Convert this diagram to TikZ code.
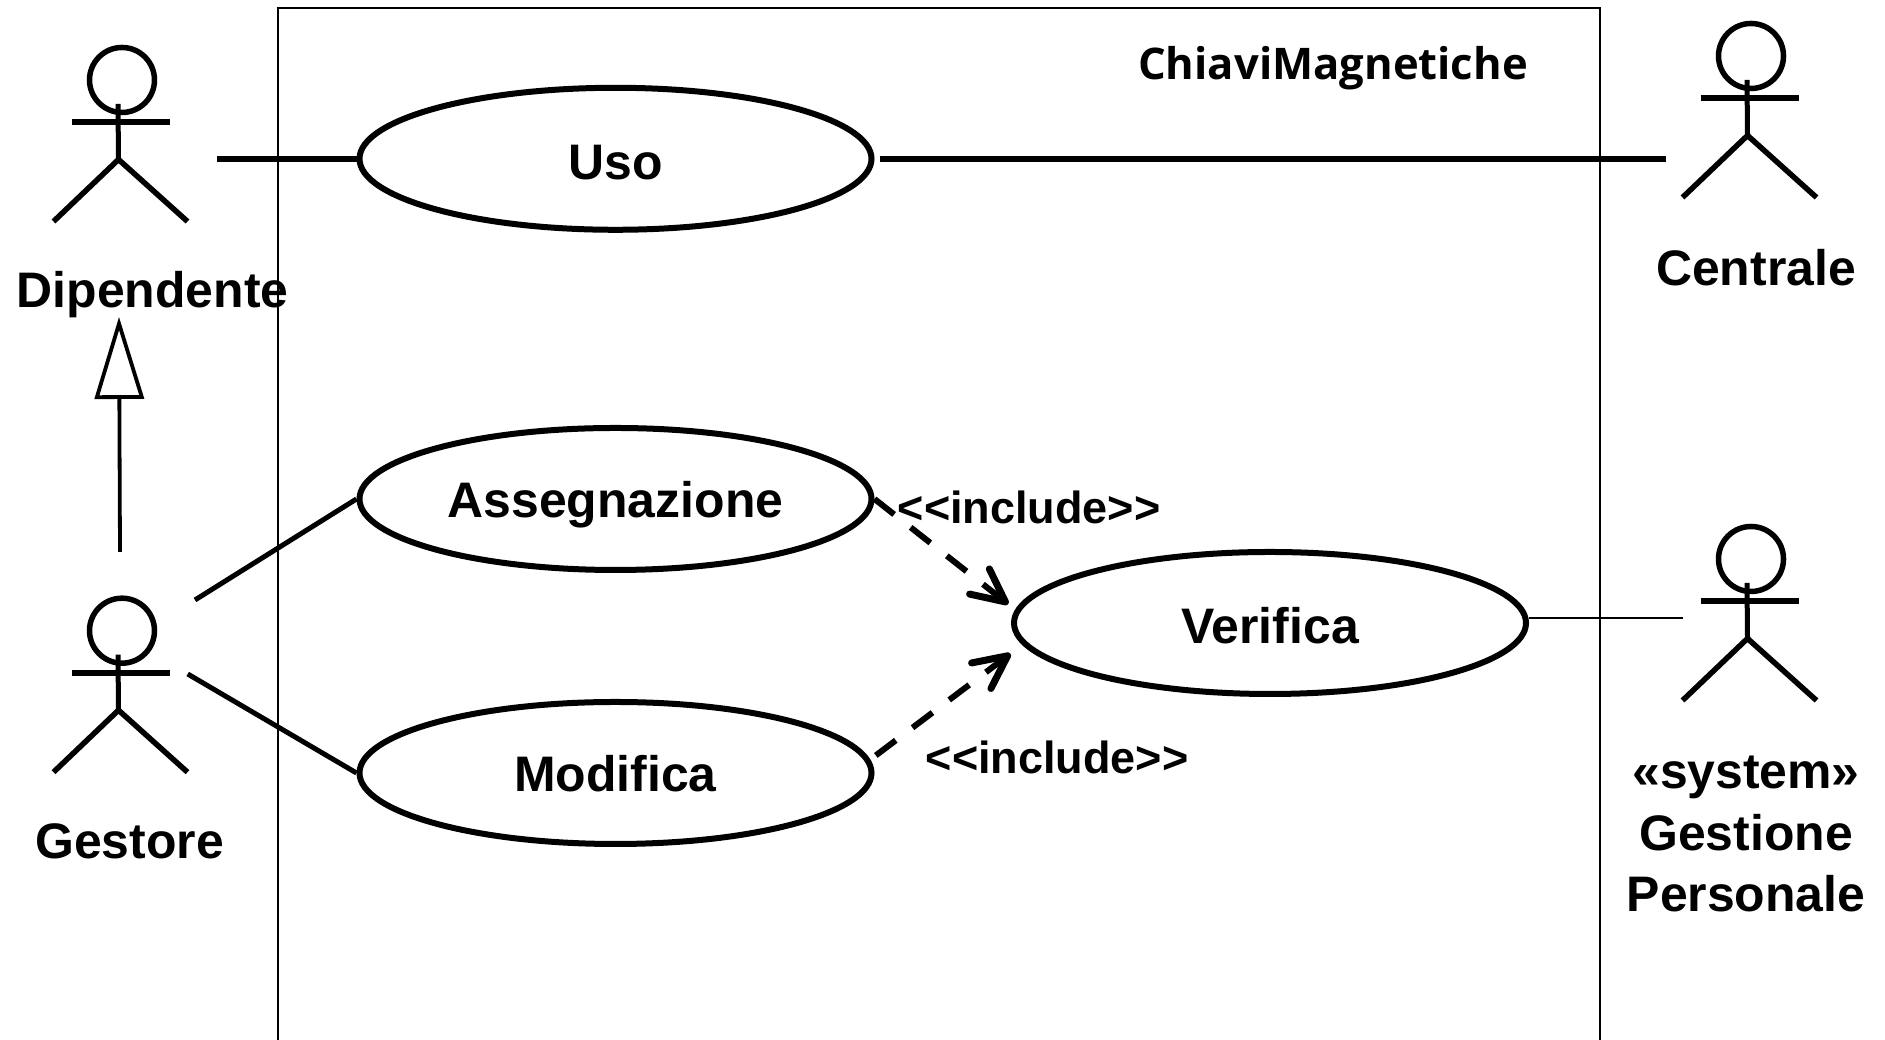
\documentclass[tikz,border=0pt]{standalone}
\usepackage{fontspec}
\setmainfont{Liberation Sans}
\newfontfamily\framefont{Open Sans}
\usetikzlibrary{arrows.meta}
\usetikzlibrary{shapes.geometric}
\tikzset{
    usecase/.style={draw, ellipse, line width=0.6mm, inner sep=0pt, minimum width=5.12cm, minimum height=1.42cm, text height=3.7mm, text depth=0pt, font=\fontsize{14.2}{17}\selectfont\bfseries},
    actorname/.style={anchor=base, font=\fontsize{14.2}{17}\selectfont\bfseries},
    stereotype/.style={anchor=base, font=\fontsize{12.8}{15}\selectfont\bfseries},
    assoc/.style={line width=0.6mm},
    includes/.style={line width=0.6mm, dash pattern=on 2.5mm off 2.1mm, -{Straight Barb[length=3.3mm, width=3.2mm, round, line width=0.7mm]}},
    actor/.pic={
        \draw[line width=0.55mm] (0,0) circle (0.325);
        \draw[line width=0.5mm] (-0.04,-0.24) -- (-0.035,-0.795);
        \draw[line width=0.6mm] (-0.505,-0.42) -- (0.475,-0.42);
        \draw[line width=0.55mm] (-0.685,-1.415) -- (-0.035,-0.795) -- (0.655,-1.415);
    }
}
\begin{document}
\begin{tikzpicture}
        \useasboundingbox (0,0) rectangle (18.85,10.4);
        \draw[line width=0.18mm] (2.78,-0.1) |- (16,10.317) -- (16,-0.1);
        \node[anchor=base, font=\fontsize{12.4}{15}\selectfont\framefont\bfseries] (sistema) at (13.33,9.6) {ChiaviMagnetiche};

        \pic at (1.22,9.6) {actor};
        \pic at (1.22,4.093) {actor};
        \pic at (17.51,9.84) {actor};
        \pic at (17.51,4.81) {actor};

        \node[actorname] (dipendente) at (1.525,7.32) {Dipendente};
        \node[actorname] (centrale) at (17.56,7.54) {Centrale};
        \node[actorname] (gestore) at (1.295,1.81) {Gestore};
        \node[actorname, align=center, anchor=center, font=\fontsize{14.2}{17.6}\selectfont\bfseries] (personale) at (17.46,2.06) {«system»\\Gestione\\Personale};

        \node[usecase, text height=4.2mm] (uso) at (6.155,8.812) {Uso};
        \node[usecase] (assegnazione) at (6.155,5.41) {Assegnazione};
        \node[usecase] (modifica) at (6.155,2.67) {Modifica};
        \node[usecase, text height=4.2mm] (verifica) at (12.7,4.17) {Verifica};

        \coordinate (dipendenteHand) at (2.167,8.812);
        \coordinate (dipendenteFoot) at (1.19,7.23);
        \coordinate (centraleHand) at (16.66,8.812);
        \coordinate (gestoreTop) at (1.2,4.88);
        \coordinate (gestoreUp) at (1.95,4.4);
        \coordinate (gestoreDown) at (1.877,3.66);
        \coordinate (personaleHand) at (16.827,4.22);

        \draw[assoc] (dipendenteHand) -- (uso.west);
        \draw[assoc, shorten <=0.5mm] (uso.east) -- (centraleHand);
        \draw[line width=0.5mm] (gestoreUp) -- (assegnazione.west);
        \draw[line width=0.5mm] (gestoreDown) -- (modifica.west);
        \draw[line width=0.15mm] (verifica.east |- personaleHand) -- (personaleHand);
        \draw[line width=0.38mm, -{Triangle[open, length=8.2mm, width=4.9mm]}] (gestoreTop) -- (dipendenteFoot);

        \draw[includes, shorten >=0.9mm] (assegnazione.east) -- (verifica.177);
        \draw[includes, shorten <=0.7mm, shorten >=1.5mm] (modifica.3) -- (verifica.185);
        \node[stereotype] (includeA) at (10.29,5.16) {<{}<include>{}>};
        \node[stereotype] (includeB) at (10.57,2.66) {<{}<include>{}>};
    \end{tikzpicture}
\end{document}
